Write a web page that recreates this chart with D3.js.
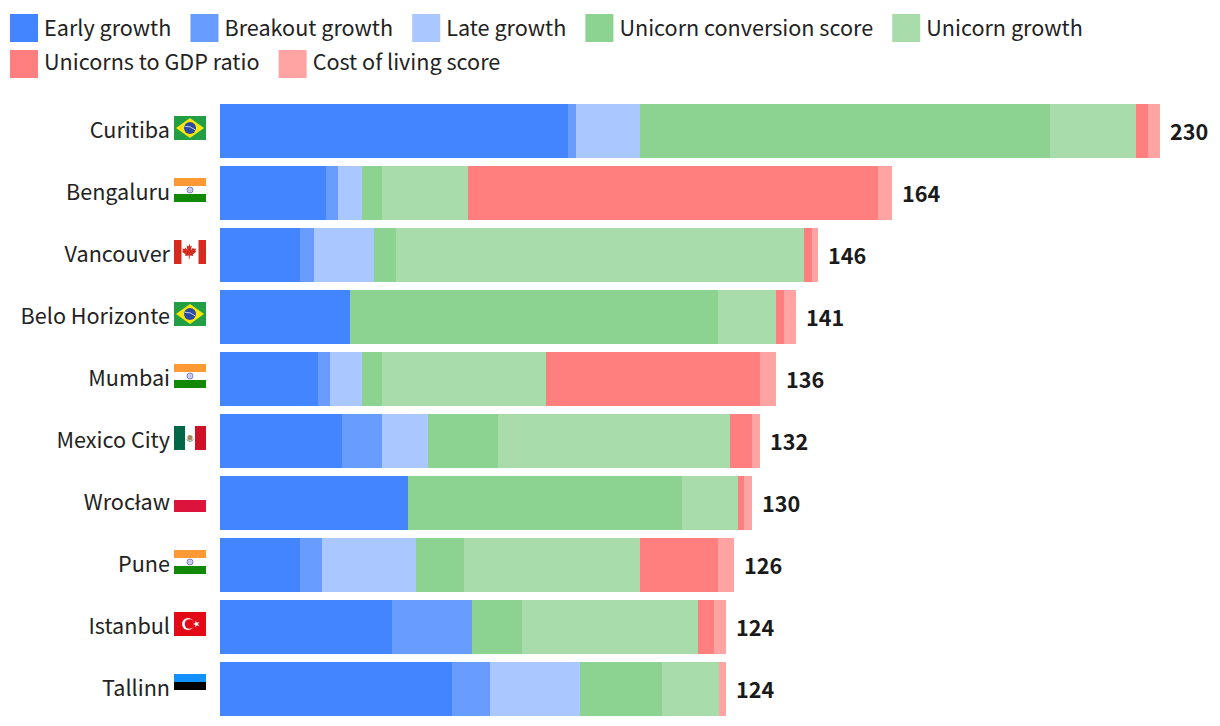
<!DOCTYPE html>
<html><head><meta charset="utf-8">
<script src="https://cdnjs.cloudflare.com/ajax/libs/d3/7.8.5/d3.min.js"></script>
<style>
html,body{margin:0;padding:0;background:#fff}
svg{display:block}
text{font-family:"Noto Sans CJK SC","Noto Sans",sans-serif;fill:#222}
</style></head><body>
<svg id="c" width="1220" height="726"></svg>
<script>
const cities = ["Curitiba","Bengaluru","Vancouver","Belo Horizonte","Mumbai","Mexico City","Wrocław","Pune","Istanbul","Tallinn"];
const flags = ["br","in","ca","br","in","mx","pl","in","tr","ee"];
const seriesNames = ["Early growth","Breakout growth","Late growth","Unicorn conversion score","Unicorn growth","Unicorns to GDP ratio","Cost of living score"];
const seriesColors = ["#4385ff","#689cff","#abc7ff","#8cd391","#a8dcab","#ff7f7f","#ffa3a3"];
const earlyGrowth     = [84.9,25.9,19.5,31.7,23.9,29.8,45.9,19.5,42,56.6];
const breakoutGrowth  = [2,2.9,3.4,0,2.9,9.8,0,5.4,19.5,9.3];
const lateGrowth      = [15.6,5.9,14.6,0,7.8,11.2,0,22.9,0,22];
const conversionScore = [100,4.9,5.4,89.8,4.9,17.1,66.8,11.7,12.2,20];
const unicornGrowth   = [21,21,99.5,14.1,40,56.6,13.7,42.9,42.9,13.7];
const gdpRatio        = [2.9,100,2,2,52.2,5.3,1.5,19,3.9,0];
const costOfLiving    = [2.9,3.4,1.5,2.9,3.9,1.9,1.8,3.9,2.9,1.8];
const totals          = [230,164,146,141,136,132,130,126,124,124];

const values = [earlyGrowth,breakoutGrowth,lateGrowth,conversionScore,unicornGrowth,gdpRatio,costOfLiving];
const svg = d3.select("#c");

// scales
const x = d3.scaleLinear().domain([0,100]).rangeRound([220,630]);
const y = d3.scaleBand().domain(cities).range([104,716]).paddingInner(8/62);

// stacked bars
const rows = cities.map((c,i)=>{const r={city:c};seriesNames.forEach((s,k)=>r[s]=values[k][i]);return r;});
const stack = d3.stack().keys(seriesNames)(rows);
svg.append("g").selectAll("g").data(stack).join("g")
  .attr("fill",(d,i)=>seriesColors[i])
  .selectAll("rect").data(d=>d.filter(p=>p[1]>p[0])).join("rect")
  .attr("x",d=>x(d[0])).attr("width",d=>x(d[1])-x(d[0]))
  .attr("y",d=>y(d.data.city)).attr("height",y.bandwidth());

// city labels
svg.append("g").selectAll("text").data(cities).join("text")
  .attr("x",170).attr("y",d=>y(d)+34).attr("text-anchor","end")
  .attr("font-size",21.6).text(d=>d);

// totals
svg.append("g").selectAll("text").data(cities).join("text")
  .attr("x",(d,i)=>x(d3.sum(values,v=>v[i]))+10).attr("y",d=>y(d)+36)
  .attr("font-size",21.6).attr("font-weight",700).style("fill","#1a1a1a")
  .text((d,i)=>totals[i]);

// flags, drawn in a 32x24 box
const maple="M16 3.5l-1.6 3-1.8-1 .8 4.6-2.3-2.5-.4 1.3-2.4-.4.7 2.5-1 .5 3.6 3-.5 1.5 3.6-.6.1 3.6h.8l.1-3.6 3.6.6-.5-1.5 3.6-3-1-.5.7-2.5-2.4.4-.4-1.3-2.3 2.5.8-4.6-1.8 1z";
const draw = {
  br(g){g.append("rect").attr("width",32).attr("height",24).attr("fill","#229e45");
    g.append("path").attr("d","M16 2L30 12 16 22 2 12Z").attr("fill","#f8e509");
    g.append("circle").attr("cx",16).attr("cy",12).attr("r",6).attr("fill","#2b49a3");
    g.append("path").attr("d","M10.6 10.2Q16 9.6 21.5 14").attr("fill","none").attr("stroke","#fff").attr("stroke-width",.7);},
  in(g){g.append("rect").attr("width",32).attr("height",8).attr("fill","#ff9933");
    g.append("rect").attr("y",16).attr("width",32).attr("height",8).attr("fill","#128807");
    g.append("circle").attr("cx",16).attr("cy",12).attr("r",3).attr("fill","#c9c9ec").attr("stroke","#6a6ab8").attr("stroke-width",.8);},
  ca(g){g.append("rect").attr("width",7.5).attr("height",24).attr("fill","#d52b1e");
    g.append("rect").attr("x",24.5).attr("width",7.5).attr("height",24).attr("fill","#d52b1e");
    g.append("path").attr("d",maple).attr("fill","#d52b1e");},
  mx(g){g.append("rect").attr("width",11).attr("height",24).attr("fill","#006847");
    g.append("rect").attr("x",21).attr("width",11).attr("height",24).attr("fill","#ce1126");
    g.append("circle").attr("cx",16).attr("cy",11.5).attr("r",2.6).attr("fill","#a98a5c");
    g.append("path").attr("d","M12.6 13.5Q16 17 19.4 13.5").attr("fill","none").attr("stroke","#4f8a5f").attr("stroke-width",1);},
  pl(g){g.append("rect").attr("y",12).attr("width",32).attr("height",12).attr("fill","#dc143c");},
  tr(g){g.append("rect").attr("width",32).attr("height",24).attr("fill","#e30a17");
    g.append("circle").attr("cx",14).attr("cy",12).attr("r",6).attr("fill","#fff");
    g.append("circle").attr("cx",15.5).attr("cy",12).attr("r",4.8).attr("fill","#e30a17");
    g.append("path").attr("d",d3.symbol(d3.symbolStar,16)()).attr("transform","translate(22.5,12) rotate(-90)").attr("fill","#fff");},
  ee(g){g.append("rect").attr("width",32).attr("height",8).attr("fill","#1291ff");
    g.append("rect").attr("y",8).attr("width",32).attr("height",8).attr("fill","#000");}
};
cities.forEach((c,i)=>{
  const g=svg.append("g").attr("transform",`translate(174,${y(c)+12})`);
  draw[flags[i]](g);
});

// legend: flows and wraps; swatch rows sit 36 apart, text rows 34
const leg = svg.append("g");
let lx=10, row=0;
seriesNames.forEach((s,i)=>{
  const t=leg.append("text").attr("font-size",21.6).text(s);
  const w=t.node().getComputedTextLength();
  if(lx+34+w>1200){lx=10;row+=1;}
  t.attr("x",lx+34).attr("y",36+row*34);
  leg.append("rect").attr("x",lx).attr("y",14+row*36).attr("width",28).attr("height",28).attr("fill",seriesColors[i]);
  lx+=34+w+19.1;
});
</script>
</body></html>
